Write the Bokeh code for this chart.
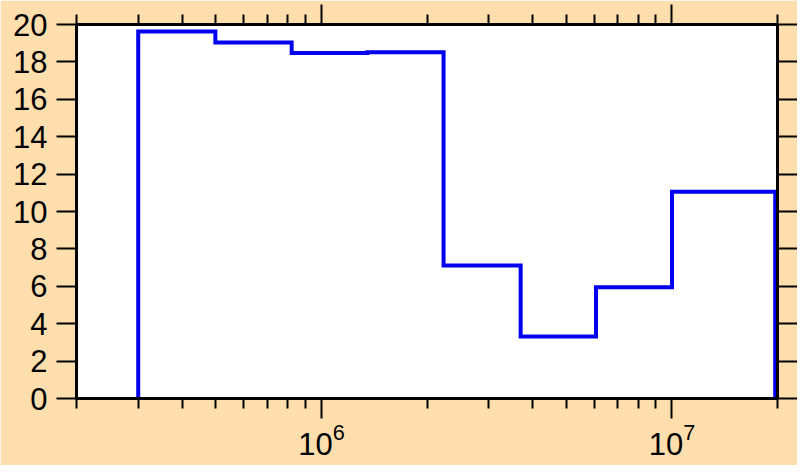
from bokeh.plotting import figure
from bokeh.models import FixedTicker, LinearAxis, LogAxis, Range1d, LogTickFormatter
from bokeh.embed import file_html
from bokeh.resources import INLINE

# Data: histogram bin edges (log-spaced) and counts
bin_edges = [3.0e5, 4.98e5, 8.22e5, 1.352e6, 2.23e6, 3.70e6, 6.07e6, 1.0e7, 1.97e7]
counts = [19.63, 19.04, 18.47, 18.52, 7.11, 3.32, 5.95, 11.05]

x_major = [1e6, 1e7]
x_minor = [2e5, 3e5, 4e5, 5e5, 6e5, 7e5, 8e5, 9e5,
           2e6, 3e6, 4e6, 5e6, 6e6, 7e6, 8e6, 9e6, 2e7]
y_ticks = [0, 2, 4, 6, 8, 10, 12, 14, 16, 18, 20]

BG = "#FFDEAD"
FONT = "Liberation Sans"

p = figure(width=797, height=465, x_axis_type="log",
           x_range=Range1d(2e5, 2e7), y_range=Range1d(0, 20),
           output_backend="svg", toolbar_location=None,
           x_axis_location=None, y_axis_location=None,
           min_border_left=76, min_border_right=15,
           min_border_top=24, min_border_bottom=67)
p.background_fill_color = "white"
p.border_fill_color = BG
p.outline_line_color = "black"
p.outline_line_width = 3
p.grid.visible = False

# step outline built from edges/counts
xs = [bin_edges[0]]
ys = [0]
for i, c in enumerate(counts):
    xs += [bin_edges[i], bin_edges[i + 1]]
    ys += [c, c]
xs.append(bin_edges[-1])
ys.append(0)
p.line(xs, ys, line_color="#0000EE", line_width=4, line_join="miter")


def style(ax, labels=True):
    ax.axis_line_width = 3
    ax.axis_line_color = "black"
    ax.major_tick_line_width = 2
    ax.minor_tick_line_width = 2
    ax.major_tick_in = 0
    ax.minor_tick_in = 0
    ax.major_tick_out = 20
    ax.minor_tick_out = 10
    ax.major_label_text_font = FONT
    ax.major_label_text_font_size = "31px"
    ax.major_label_text_color = "black"
    if not labels:
        ax.major_label_text_font_size = "0px"
        ax.major_label_text_alpha = 0
        ax.major_label_standoff = 0


xb = LogAxis(ticker=FixedTicker(ticks=x_major, minor_ticks=x_minor),
             formatter=LogTickFormatter())
style(xb)
xb.major_label_standoff = 4
xt = LogAxis(ticker=FixedTicker(ticks=x_major, minor_ticks=x_minor))
style(xt, labels=False)

yl = LinearAxis(ticker=FixedTicker(ticks=y_ticks))
style(yl)
yl.major_label_standoff = 9
yr = LinearAxis(ticker=FixedTicker(ticks=y_ticks))
style(yr, labels=False)

p.add_layout(xb, "below")
p.add_layout(xt, "above")
p.add_layout(yl, "left")
p.add_layout(yr, "right")

open("out.html", "w").write(file_html(p, INLINE))
